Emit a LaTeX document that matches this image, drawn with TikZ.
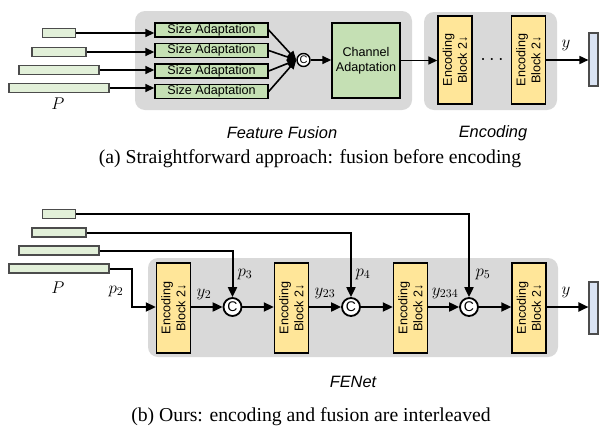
\RequirePackage{fix-cm}
\documentclass[tikz,border=0pt]{standalone}
\usepackage{fontspec}
\setmainfont{Liberation Serif}
\newfontfamily\arialf{Liberation Sans}
\usetikzlibrary{arrows.meta}
\definecolor{panelgray}{HTML}{D9D9D9}
\definecolor{adaptgreen}{HTML}{C5E0B4}
\definecolor{featgreen}{HTML}{E2F0D9}
\definecolor{encyellow}{HTML}{FFE699}
\definecolor{outblue}{HTML}{DAE3F3}
\begin{document}
\begin{tikzpicture}[x=1pt,y=-1pt,
  panel/.style={fill=panelgray, draw=none, rounded corners=10pt},
  feat/.style={draw=black!70, line width=1.1pt, fill=featgreen, minimum height=9pt, inner sep=0pt},
  adapt/.style={draw=black, line width=1.4pt, fill=adaptgreen, inner sep=0pt,
    font=\arialf\fontsize{12.6}{15}\selectfont},
  encblock/.style={draw=black, line width=1.4pt, fill=encyellow, inner sep=0pt, minimum width=34pt},
  enctext/.style={rotate=90, align=center, inner sep=0pt, font=\arialf\fontsize{12.6}{15}\selectfont},
  outbar/.style={draw=black!70, line width=1.1pt, fill=outblue, inner sep=0pt, minimum width=9pt},
  cata/.style={circle, draw=black, line width=1.4pt, fill=white, inner sep=0pt, minimum size=13pt,
    font=\arialf\fontsize{11}{12}\selectfont},
  catb/.style={circle, draw=black, line width=1.8pt, fill=white, inner sep=0pt, minimum size=18pt,
    font=\arialf\fontsize{14}{16}\selectfont},
  arra/.style={-{Triangle[length=9pt,width=8pt]}, line width=1.6pt},
  arrb/.style={-{Triangle[length=10pt,width=9pt]}, line width=2pt},
  lab/.style={font=\arialf\itshape\fontsize{16.4}{19.7}\selectfont},
  mlab/.style={font=\fontsize{17}{20}\selectfont, inner sep=0pt},
  captext/.style={font=\fontsize{19.7}{23.6}\selectfont}
]
\useasboundingbox (0,0) rectangle (600,429);

% ---------- (a) fusion before encoding ----------
\fill[panel] (135,11) rectangle (412,110);
\fill[panel] (424,12) rectangle (557,110);

\node[feat, minimum width=33pt]  (fa1) at (59,33) {};
\node[feat, minimum width=54pt]  (fa2) at (59,52) {};
\node[feat, minimum width=80pt]  (fa3) at (59,70) {};
\node[feat, minimum width=100pt] (fa4) at (59,88) {};
\node[mlab] (pa) at (58,104) {$P$};

\node[adapt, minimum width=113pt, minimum height=14pt] (sa1) at (211.5,30) {Size Adaptation};
\node[adapt, minimum width=113pt, minimum height=14pt] (sa2) at (211.5,50.5) {Size Adaptation};
\node[adapt, minimum width=113pt, minimum height=14pt] (sa3) at (211.5,71) {Size Adaptation};
\node[adapt, minimum width=113pt, minimum height=14pt] (sa4) at (211.5,91.5) {Size Adaptation};

\foreach \i in {1,...,4}{
  \draw[arra] (fa\i.east) -- (fa\i.east -| sa\i.west);
}

\node[cata] (ca) at (303.5,60) {C};
\foreach \i in {1,...,4}{
  \draw[arra] (sa\i.east) -- (ca.west);
}

\node[adapt, minimum width=68pt, minimum height=75pt, align=center] (chan) at (366,60.5) {Channel\\Adaptation};
\draw[arra] (ca.east) -- (ca.east -| chan.west);

\node[encblock, minimum height=88pt] (ea1) at (455,60) {};
\node[enctext] (ea1t) at (ea1) {Encoding\\Block 2↓};
\node[inner sep=0pt, font=\fontsize{20}{24}\selectfont] (dots) at (492,60) {$\cdots$};
\node[encblock, minimum height=88pt] (ea2) at (528.5,60) {};
\node[enctext] (ea2t) at (ea2) {Encoding\\Block 2↓};
\node[outbar, minimum height=53pt] (oa) at (593.5,59.5) {};

\draw[arra] (chan.east) -- (chan.east -| ea1.west);
\draw[arra] (ea2.east) -- (ea2.east -| oa.west);
\node[mlab] (ya) at (566,45) {$y$};

\node[lab] (ffl) at (282,133) {Feature Fusion};
\node[lab] (encl) at (493,133) {Encoding};
\node[captext] (capa) at (310,159) {(a) Straightforward approach: fusion before encoding};

% ---------- (b) FENet ----------
\fill[panel] (148,258) rectangle (558,357);

\node[feat, minimum width=33pt]  (fb1) at (59,214) {};
\node[feat, minimum width=54pt]  (fb2) at (59,232.5) {};
\node[feat, minimum width=80pt]  (fb3) at (59,250.5) {};
\node[feat, minimum width=100pt] (fb4) at (59,268.5) {};
\node[mlab] (pb) at (58,288) {$P$};

\node[encblock, minimum height=90pt] (eb1) at (173.5,308) {};
\node[enctext] (eb1t) at (eb1) {Encoding\\Block 2↓};
\node[encblock, minimum height=90pt] (eb2) at (291.5,308) {};
\node[enctext] (eb2t) at (eb2) {Encoding\\Block 2↓};
\node[encblock, minimum height=90pt] (eb3) at (410.5,308) {};
\node[enctext] (eb3t) at (eb3) {Encoding\\Block 2↓};
\node[encblock, minimum height=90pt] (eb4) at (529,308) {};
\node[enctext] (eb4t) at (eb4) {Encoding\\Block 2↓};

\node[catb] (cb1) at (232.5,307) {C};
\node[catb] (cb2) at (351,307) {C};
\node[catb] (cb3) at (469,307) {C};
\node[outbar, minimum height=52pt] (ob) at (593.5,308) {};

\coordinate (bend) at (132,268.5);
\draw[arrb] (fb4.east) -- (bend) |- (cb1 -| eb1.west);
\draw[arrb] (fb3.east) -| (cb1.north);
\draw[arrb] (fb2.east) -| (cb2.north);
\draw[arrb] (fb1.east) -| (cb3.north);

\draw[arrb] (cb1 -| eb1.east) -- (cb1.west);
\draw[arrb] (cb1.east) -- (cb1 -| eb2.west);
\draw[arrb] (cb2 -| eb2.east) -- (cb2.west);
\draw[arrb] (cb2.east) -- (cb2 -| eb3.west);
\draw[arrb] (cb3 -| eb3.east) -- (cb3.west);
\draw[arrb] (cb3.east) -- (cb3 -| eb4.west);
\draw[arrb] (cb3 -| eb4.east) -- (cb3 -| ob.west);

\node[mlab] (p2) at (116,291) {$p_2$};
\node[mlab] (y2) at (204,294) {$y_2$};
\node[mlab] (p3) at (245,274) {$p_3$};
\node[mlab] (y23) at (325,293) {$y_{23}$};
\node[mlab] (p4) at (363,274) {$p_4$};
\node[mlab] (y234) at (445,293) {$y_{234}$};
\node[mlab] (p5) at (483,274) {$p_5$};
\node[mlab] (yb) at (566,292) {$y$};

\node[lab] (fenet) at (353,382) {FENet};
\node[captext] (capb) at (311,417) {(b) Ours: encoding and fusion are interleaved};
\end{tikzpicture}
\end{document}
